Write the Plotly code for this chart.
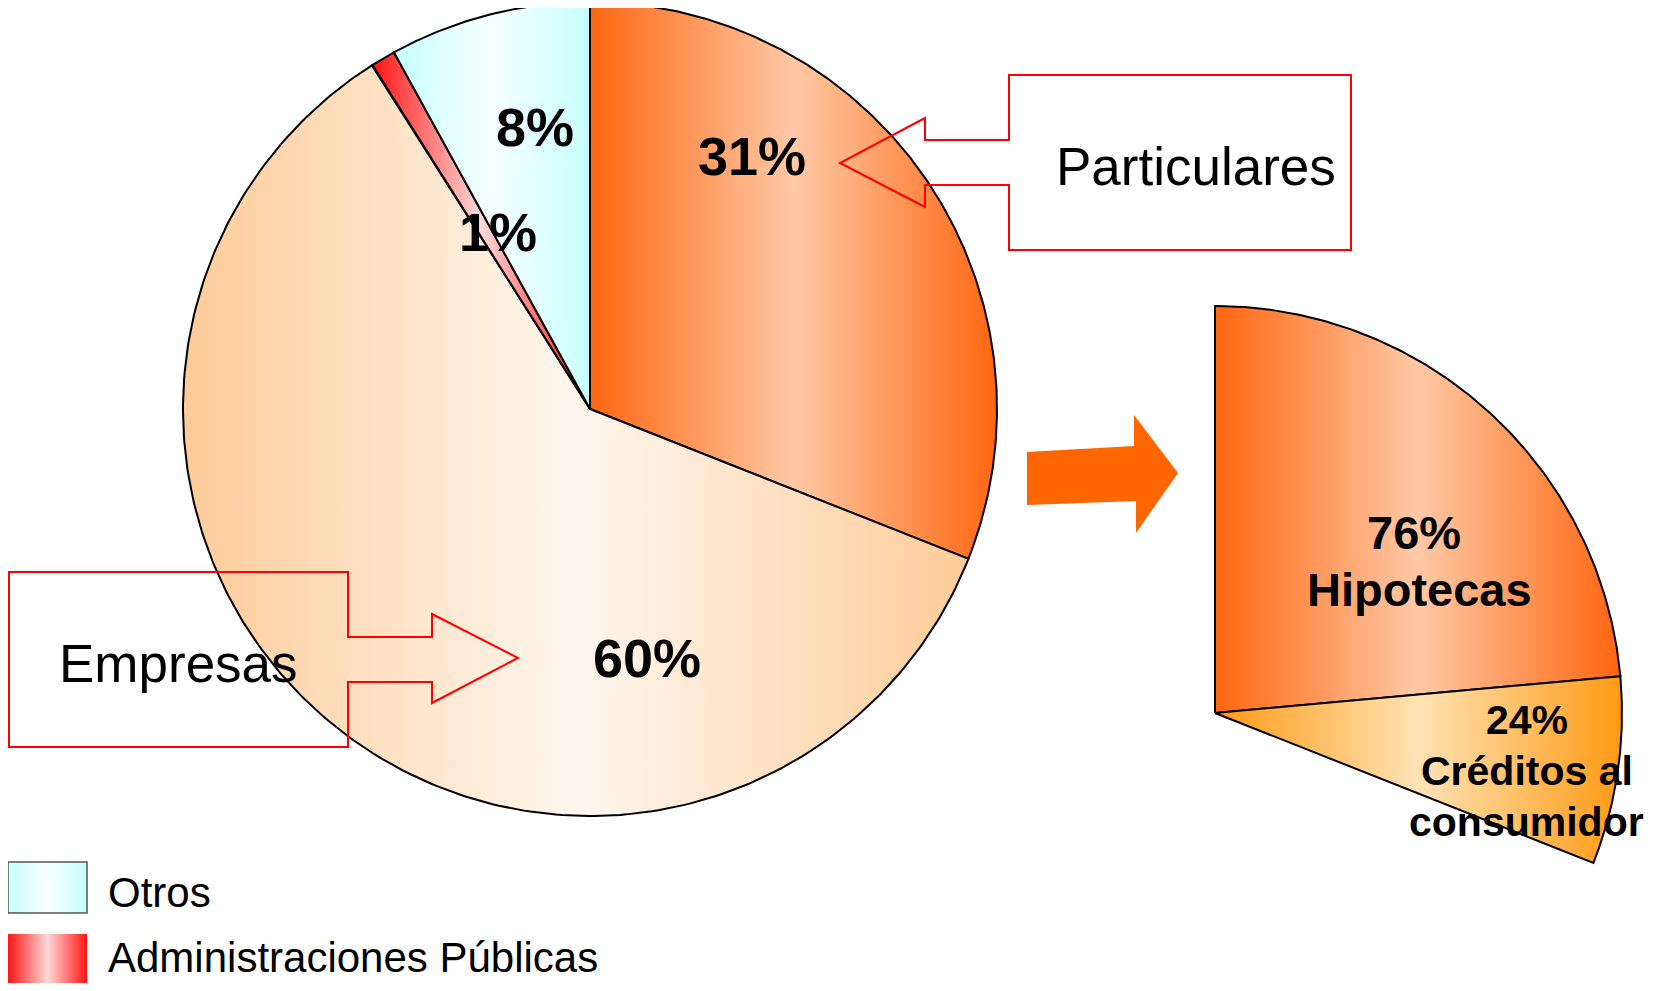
import numpy as np
import plotly.graph_objects as go

# ---------------- data ----------------
main_labels = ["Particulares", "Empresas", "Administraciones Públicas", "Otros"]
main_values = [31, 60, 1, 8]
main_pct_text = ["31%", "60%", "1%", "8%"]

sub_labels = ["Hipotecas", "Créditos al consumidor"]
sub_values = [76, 24]
sub_pct_text = ["76%", "24%"]

legend_labels = ["Otros", "Administraciones Públicas"]

# gradient colours (edge, middle) per category
grad = {
    "Particulares": ("#FF6610", "#FFC9A6"),
    "Empresas": ("#FDCB98", "#FFF7EF"),
    "Administraciones Públicas": ("#FF1414", "#FFD9D9"),
    "Otros": ("#C8FFFF", "#F7FFFF"),
    "Hipotecas": ("#FF6610", "#FFC9A6"),
    "Créditos al consumidor": ("#FF9A14", "#FFE3B5"),
}

# page body has an 8px margin: plot area covers window pixels 8..1649 x 8..983
X0, X1, Y0, Y1 = 8, 1649, 8, 983
FONT = "Liberation Sans, Arial, sans-serif"


def cscale(label):
    e, m = grad[label]
    return [[0, e], [0.5, m], [1, e]]


def wedge(cx, cy, r, a0, a1, n=240):
    t = np.radians(np.linspace(a0, a1, n))
    x = np.concatenate([[cx], cx + r * np.sin(t), [cx]])
    y = np.concatenate([[cy], cy - r * np.cos(t), [cy]])
    return x, y


fig = go.Figure()

# ---------------- main pie ----------------
cx, cy, R = 590, 409, 407
tot = sum(main_values)
a = 0.0
for lab, v in zip(main_labels, main_values):
    a1 = a + 360.0 * v / tot
    x, y = wedge(cx, cy, R, a, a1)
    fig.add_trace(go.Scatter(
        x=x, y=y, mode="lines", fill="toself",
        fillgradient=dict(type="horizontal", colorscale=cscale(lab)),
        line=dict(color="black", width=2), name=lab, hoverinfo="name",
        showlegend=False))
    a = a1

# ---------------- sub pie (Particulares breakdown) ----------------
scx, scy = 1215, 713
span = 360.0 * main_values[0] / tot
a = 0.0
stot = sum(sub_values)
for lab, v in zip(sub_labels, sub_values):
    a1 = a + span * v / stot
    x, y = wedge(scx, scy, R, a, a1)
    fig.add_trace(go.Scatter(
        x=x, y=y, mode="lines", fill="toself",
        fillgradient=dict(type="horizontal", colorscale=cscale(lab)),
        line=dict(color="black", width=2), name=lab, hoverinfo="name",
        showlegend=False))
    a = a1

# ---------------- legend swatches ----------------
leg_y = [862, 934]
leg_text_y = [892, 957]
for lab, y0, ty in zip(legend_labels, leg_y, leg_text_y):
    fig.add_trace(go.Scatter(
        x=[8, 87, 87, 8, 8], y=[y0, y0, y0 + 51, y0 + 51, y0], mode="lines",
        fill="toself",
        fillgradient=dict(type="horizontal", colorscale=cscale(lab)),
        line=dict(color="#555555" if lab == "Otros" else "rgba(0,0,0,0)", width=1.5),
        hoverinfo="skip", showlegend=False))
    fig.add_annotation(x=106, y=ty, text=lab, showarrow=False,
                       xanchor="left", yanchor="middle",
                       font=dict(family=FONT, size=42, color="black"))

# ---------------- shapes: big arrow and callouts ----------------
shapes = [
    dict(type="path", xref="x", yref="y", layer="above",
         path="M1027,452 L1134,446 L1134,415 L1178,473 L1136,533 L1136,501 L1027,505 Z",
         fillcolor="#FF6600", line=dict(width=0)),
    dict(type="path", xref="x", yref="y", layer="above",
         path="M1009,75 L1351,75 L1351,250 L1009,250 L1009,185 L925,185 L925,207 "
              "L840,163 L925,118 L925,140 L1009,140 Z",
         fillcolor="rgba(0,0,0,0)", line=dict(color="#FF0000", width=2)),
    dict(type="path", xref="x", yref="y", layer="above",
         path="M9,572 L348,572 L348,637 L432,637 L432,614 L518,658 L432,703 L432,682 "
              "L348,682 L348,747 L9,747 Z",
         fillcolor="rgba(0,0,0,0)", line=dict(color="#FF0000", width=2)),
]

# ---------------- labels ----------------
def lab(x, y, t, size, bold=True):
    fig.add_annotation(x=x, y=y, text=f"<b>{t}</b>" if bold else t, showarrow=False,
                       xanchor="center", yanchor="middle",
                       font=dict(family=FONT, size=size, color="black"))

lab(752, 156, main_pct_text[0], 54)
lab(647, 658, main_pct_text[1], 54)
lab(498, 232, main_pct_text[2], 54)
lab(535, 127, main_pct_text[3], 54)
lab(1414, 532, sub_pct_text[0], 47)
lab(1419, 589, "Hipotecas", 47)
lab(1527, 720, sub_pct_text[1], 41)
lab(1527, 771, "Créditos al", 41)
lab(1526, 822, "consumidor", 41)
lab(1196, 166, main_labels[0], 53, bold=False)
lab(178, 663, main_labels[1], 53, bold=False)

fig.update_layout(
    shapes=shapes,
    margin=dict(l=0, r=0, t=0, b=0),
    paper_bgcolor="white", plot_bgcolor="white",
    xaxis=dict(range=[X0, X1], visible=False, fixedrange=True),
    yaxis=dict(range=[Y1, Y0], visible=False, fixedrange=True),
    showlegend=False,
)

fig.write_html("out.html", config={"displayModeBar": False})
